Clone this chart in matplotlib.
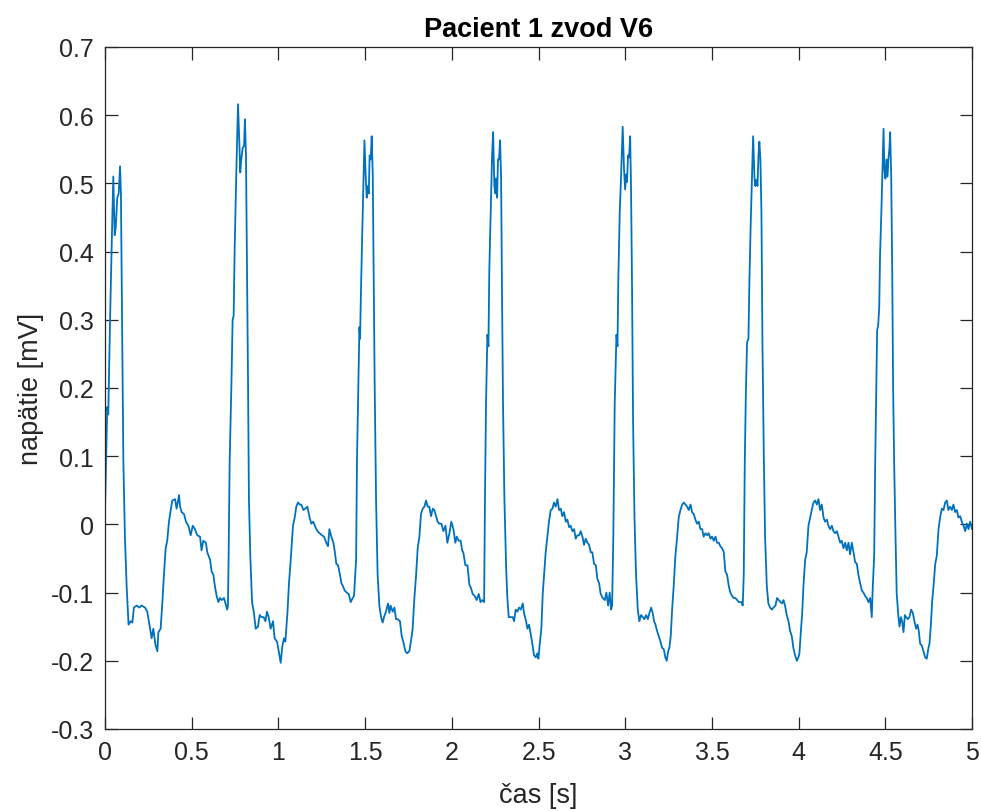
import numpy as np
import matplotlib
matplotlib.use("Agg")
import matplotlib.pyplot as plt
from matplotlib.ticker import FormatStrFormatter

t_beat1 = [0.000, 0.013, 0.019, 0.029, 0.038, 0.048, 0.056, 0.062, 0.071, 0.079,
           0.087, 0.092, 0.098, 0.106, 0.115, 0.125, 0.136, 0.148, 0.158, 0.167,
           0.183, 0.198, 0.211, 0.231, 0.244, 0.260, 0.269, 0.279, 0.290, 0.302,
           0.308, 0.321, 0.331, 0.340, 0.350, 0.359, 0.369, 0.379, 0.388, 0.404,
           0.413, 0.427, 0.433, 0.442, 0.456, 0.467, 0.481, 0.494, 0.506, 0.519,
           0.532, 0.548, 0.557, 0.567, 0.582, 0.590, 0.606, 0.615, 0.625, 0.634,
           0.644, 0.654, 0.663, 0.673, 0.686, 0.698, 0.705]
v_beat1 = [0.018, 0.172, 0.161, 0.295, 0.401, 0.510, 0.424, 0.435, 0.479, 0.485,
           0.525, 0.485, 0.317, 0.093, -0.018, -0.091, -0.147, -0.142, -0.144, -0.122,
           -0.119, -0.122, -0.119, -0.122, -0.128, -0.153, -0.167, -0.153, -0.175, -0.186,
           -0.158, -0.153, -0.114, -0.074, -0.035, -0.024, 0.004, 0.021, 0.035, 0.037,
           0.023, 0.043, 0.026, 0.018, 0.015, 0.004, -0.002, -0.016, -0.002, -0.007,
           -0.016, -0.018, -0.038, -0.024, -0.027, -0.041, -0.052, -0.069, -0.074, -0.091,
           -0.105, -0.114, -0.108, -0.111, -0.108, -0.119, -0.125]

t_beat2 = [0.709, 0.713, 0.719, 0.729, 0.736, 0.742, 0.748, 0.757, 0.767, 0.775,
           0.780, 0.786, 0.794, 0.802, 0.807, 0.813, 0.819, 0.825, 0.830, 0.838,
           0.848, 0.859, 0.869, 0.882, 0.892, 0.902, 0.915, 0.925, 0.934, 0.944,
           0.955, 0.969, 0.978, 0.992, 1.002, 1.013, 1.023, 1.032, 1.040, 1.052,
           1.061, 1.071, 1.084, 1.094, 1.103, 1.113, 1.123, 1.132, 1.144, 1.155,
           1.167, 1.180, 1.190, 1.201, 1.213, 1.225, 1.238, 1.251, 1.263, 1.276,
           1.286, 1.294, 1.305, 1.317, 1.324, 1.334, 1.344, 1.355, 1.363, 1.373,
           1.382, 1.394, 1.405, 1.417, 1.428, 1.436]
v_beat2 = [-0.119, -0.046, 0.093, 0.205, 0.300, 0.306, 0.407, 0.513, 0.616, 0.558,
           0.516, 0.535, 0.552, 0.555, 0.594, 0.541, 0.373, 0.205, 0.037, -0.046,
           -0.114, -0.130, -0.153, -0.150, -0.133, -0.136, -0.136, -0.142, -0.128, -0.136,
           -0.153, -0.142, -0.167, -0.172, -0.186, -0.203, -0.178, -0.167, -0.172, -0.130,
           -0.086, -0.052, -0.002, 0.010, 0.026, 0.032, 0.029, 0.029, 0.021, 0.023,
           0.026, 0.010, 0.001, 0.004, -0.004, -0.010, -0.013, -0.016, -0.018, -0.027,
           -0.032, -0.007, -0.018, -0.027, -0.038, -0.058, -0.060, -0.074, -0.086, -0.091,
           -0.097, -0.100, -0.102, -0.114, -0.108, -0.105]

t_beat3 = [1.448, 1.453, 1.459, 1.467, 1.471, 1.474, 1.482, 1.488, 1.496, 1.503,
           1.509, 1.515, 1.521, 1.526, 1.532, 1.538, 1.544, 1.549, 1.555, 1.563,
           1.572, 1.582, 1.592, 1.601, 1.609, 1.620, 1.632, 1.640, 1.647, 1.659,
           1.669, 1.678, 1.688, 1.701, 1.711, 1.720, 1.732, 1.742, 1.755, 1.765,
           1.774, 1.784, 1.794, 1.803, 1.813, 1.822, 1.832, 1.842, 1.851, 1.861,
           1.870, 1.880, 1.890, 1.899, 1.909, 1.918, 1.928, 1.940, 1.951, 1.963,
           1.974, 1.986, 1.997, 2.009, 2.020, 2.028, 2.040, 2.051, 2.059, 2.066,
           2.078, 2.090, 2.101, 2.111, 2.120, 2.132, 2.143, 2.155, 2.165, 2.174]
v_beat3 = [-0.052, 0.093, 0.177, 0.289, 0.272, 0.317, 0.412, 0.474, 0.563, 0.513,
           0.479, 0.496, 0.485, 0.541, 0.535, 0.569, 0.513, 0.373, 0.205, 0.037,
           -0.074, -0.119, -0.136, -0.144, -0.136, -0.128, -0.116, -0.130, -0.119, -0.128,
           -0.122, -0.139, -0.139, -0.142, -0.164, -0.172, -0.186, -0.189, -0.186, -0.170,
           -0.153, -0.108, -0.074, -0.035, -0.018, 0.015, 0.023, 0.026, 0.035, 0.026,
           0.026, 0.012, 0.023, 0.021, 0.012, 0.004, 0.001, 0.001, -0.010, -0.002,
           -0.027, -0.013, 0.004, -0.007, -0.027, -0.018, -0.024, -0.024, -0.038, -0.041,
           -0.060, -0.060, -0.088, -0.094, -0.102, -0.105, -0.111, -0.102, -0.114, -0.111]

t_beat4 = [2.186, 2.191, 2.197, 2.205, 2.211, 2.216, 2.224, 2.232, 2.238, 2.245,
           2.251, 2.255, 2.261, 2.266, 2.272, 2.278, 2.284, 2.289, 2.295, 2.303,
           2.313, 2.320, 2.328, 2.339, 2.351, 2.359, 2.368, 2.378, 2.387, 2.397,
           2.409, 2.416, 2.428, 2.436, 2.445, 2.455, 2.464, 2.474, 2.484, 2.493,
           2.499, 2.509, 2.516, 2.524, 2.532, 2.541, 2.551, 2.560, 2.570, 2.580,
           2.589, 2.599, 2.609, 2.618, 2.628, 2.637, 2.647, 2.657, 2.666, 2.676,
           2.685, 2.695, 2.705, 2.714, 2.724, 2.734, 2.743, 2.753, 2.762, 2.772,
           2.782, 2.791, 2.801, 2.810, 2.820, 2.830, 2.839, 2.849, 2.858, 2.870,
           2.882, 2.891, 2.901, 2.910, 2.918]
v_beat4 = [-0.114, 0.037, 0.177, 0.278, 0.261, 0.373, 0.457, 0.541, 0.575, 0.496,
           0.485, 0.507, 0.479, 0.535, 0.535, 0.563, 0.507, 0.345, 0.177, 0.037,
           -0.063, -0.108, -0.136, -0.136, -0.136, -0.142, -0.125, -0.128, -0.122, -0.125,
           -0.116, -0.130, -0.142, -0.153, -0.147, -0.161, -0.175, -0.192, -0.195, -0.189,
           -0.197, -0.170, -0.153, -0.102, -0.074, -0.041, -0.018, 0.004, 0.021, 0.023,
           0.032, 0.026, 0.037, 0.021, 0.023, 0.012, 0.018, 0.004, 0.007, -0.004,
           -0.002, -0.010, -0.007, -0.021, -0.016, -0.016, -0.010, -0.018, -0.030, -0.021,
           -0.027, -0.030, -0.041, -0.041, -0.058, -0.060, -0.080, -0.086, -0.102, -0.108,
           -0.111, -0.100, -0.119, -0.100, -0.125]

t_beat5 = [2.924, 2.931, 2.939, 2.949, 2.955, 2.960, 2.968, 2.976, 2.985, 2.993,
           2.999, 3.005, 3.010, 3.016, 3.022, 3.028, 3.033, 3.039, 3.045, 3.053,
           3.062, 3.072, 3.081, 3.091, 3.101, 3.110, 3.120, 3.130, 3.139, 3.149,
           3.158, 3.166, 3.174, 3.183, 3.193, 3.203, 3.212, 3.222, 3.231, 3.239,
           3.247, 3.254, 3.262, 3.270, 3.279, 3.289, 3.299, 3.308, 3.318, 3.328,
           3.337, 3.347, 3.356, 3.366, 3.376, 3.385, 3.395, 3.404, 3.414, 3.424,
           3.433, 3.443, 3.452, 3.462, 3.472, 3.481, 3.491, 3.500, 3.510, 3.520,
           3.529, 3.539, 3.548, 3.558, 3.568, 3.577, 3.587, 3.597, 3.606, 3.616,
           3.625, 3.635, 3.645, 3.654, 3.664]
v_beat5 = [-0.119, -0.018, 0.177, 0.278, 0.261, 0.362, 0.457, 0.513, 0.583, 0.519,
           0.491, 0.513, 0.502, 0.541, 0.538, 0.569, 0.496, 0.345, 0.149, 0.010,
           -0.074, -0.125, -0.142, -0.133, -0.136, -0.139, -0.133, -0.139, -0.130, -0.122,
           -0.130, -0.142, -0.147, -0.156, -0.164, -0.172, -0.181, -0.183, -0.195, -0.200,
           -0.186, -0.181, -0.164, -0.125, -0.091, -0.046, -0.018, 0.010, 0.021, 0.029,
           0.032, 0.029, 0.026, 0.021, 0.029, 0.018, 0.015, 0.007, 0.001, 0.004,
           -0.007, -0.007, -0.018, -0.013, -0.016, -0.013, -0.021, -0.018, -0.024, -0.018,
           -0.027, -0.027, -0.032, -0.035, -0.041, -0.069, -0.074, -0.091, -0.100, -0.105,
           -0.108, -0.108, -0.111, -0.114, -0.114]

t_beat6 = [3.670, 3.677, 3.683, 3.689, 3.695, 3.702, 3.710, 3.716, 3.723, 3.731,
           3.737, 3.745, 3.750, 3.756, 3.762, 3.768, 3.773, 3.779, 3.785, 3.791,
           3.799, 3.806, 3.816, 3.825, 3.835, 3.845, 3.854, 3.866, 3.875, 3.885,
           3.895, 3.904, 3.912, 3.921, 3.931, 3.941, 3.950, 3.960, 3.969, 3.979,
           3.989, 3.998, 4.004, 4.012, 4.020, 4.027, 4.037, 4.046, 4.056, 4.066,
           4.075, 4.085, 4.095, 4.104, 4.114, 4.123, 4.133, 4.143, 4.152, 4.162,
           4.171, 4.181, 4.191, 4.200, 4.210, 4.220, 4.229, 4.239, 4.248, 4.258,
           4.268, 4.277, 4.287, 4.296, 4.306, 4.316, 4.325, 4.335, 4.344, 4.354,
           4.364, 4.373, 4.383, 4.392, 4.402]
v_beat6 = [-0.114, -0.119, -0.074, 0.093, 0.189, 0.267, 0.272, 0.362, 0.440, 0.513,
           0.569, 0.507, 0.496, 0.505, 0.496, 0.541, 0.561, 0.535, 0.457, 0.261,
           0.093, -0.018, -0.091, -0.116, -0.122, -0.125, -0.122, -0.119, -0.108, -0.111,
           -0.114, -0.116, -0.111, -0.119, -0.133, -0.142, -0.156, -0.164, -0.181, -0.192,
           -0.200, -0.195, -0.189, -0.158, -0.130, -0.091, -0.052, -0.041, -0.002, 0.010,
           0.021, 0.032, 0.035, 0.029, 0.037, 0.021, 0.029, 0.010, 0.004, 0.007,
           -0.002, -0.007, -0.002, -0.010, -0.013, -0.010, -0.018, -0.027, -0.024, -0.035,
           -0.027, -0.038, -0.027, -0.044, -0.027, -0.041, -0.055, -0.058, -0.074, -0.086,
           -0.097, -0.100, -0.105, -0.108, -0.114]

t_beat7 = [4.412, 4.421, 4.427, 4.435, 4.441, 4.446, 4.452, 4.458, 4.464, 4.469,
           4.477, 4.485, 4.489, 4.494, 4.500, 4.506, 4.512, 4.517, 4.523, 4.527,
           4.533, 4.539, 4.544, 4.550, 4.558, 4.565, 4.575, 4.581, 4.589, 4.596,
           4.604, 4.612, 4.619, 4.629, 4.638, 4.648, 4.658, 4.667, 4.677, 4.685,
           4.692, 4.700, 4.710, 4.719, 4.729, 4.738, 4.748, 4.754, 4.762, 4.769,
           4.777, 4.787, 4.796, 4.806, 4.815, 4.825, 4.835, 4.844, 4.854, 4.863,
           4.873, 4.883, 4.892, 4.902, 4.911, 4.921, 4.931, 4.940, 4.950, 4.960,
           4.969, 4.979, 4.988, 5.000]
v_beat7 = [-0.108, -0.136, -0.091, -0.046, 0.093, 0.177, 0.284, 0.292, 0.317, 0.396,
           0.463, 0.541, 0.580, 0.519, 0.507, 0.535, 0.510, 0.535, 0.552, 0.575,
           0.513, 0.373, 0.205, 0.093, -0.018, -0.102, -0.136, -0.150, -0.136, -0.142,
           -0.158, -0.133, -0.136, -0.139, -0.136, -0.125, -0.130, -0.142, -0.153, -0.147,
           -0.156, -0.175, -0.178, -0.186, -0.195, -0.197, -0.181, -0.175, -0.147, -0.114,
           -0.091, -0.058, -0.046, -0.007, 0.010, 0.023, 0.021, 0.032, 0.035, 0.021,
           0.026, 0.021, 0.029, 0.018, 0.021, 0.010, 0.012, 0.004, -0.002, -0.010,
           0.001, -0.007, 0.004, -0.007]

t = np.concatenate([t_beat1, t_beat2, t_beat3, t_beat4, t_beat5, t_beat6, t_beat7])
v = np.concatenate([v_beat1, v_beat2, v_beat3, v_beat4, v_beat5, v_beat6, v_beat7])

x_ticks = [0, 0.5, 1, 1.5, 2, 2.5, 3, 3.5, 4, 4.5, 5]
y_ticks = [-0.3, -0.2, -0.1, 0, 0.1, 0.2, 0.3, 0.4, 0.5, 0.6, 0.7]

plt.rcParams['font.family'] = ['Liberation Sans', 'DejaVu Sans']
plt.rcParams['axes.unicode_minus'] = False

fig = plt.figure(figsize=(9.81, 8.12), dpi=100)
ax = fig.add_axes([0.107, 0.101, 0.884, 0.840])

ax.plot(t, v, color='#0072BD', linewidth=1.3)

ax.set_xlim(0, 5)
ax.set_ylim(-0.3, 0.7)
ax.set_xticks(x_ticks)
ax.set_yticks(y_ticks)
ax.xaxis.set_major_formatter(FormatStrFormatter('%g'))
ax.yaxis.set_major_formatter(FormatStrFormatter('%g'))
ax.tick_params(direction='in', length=9, width=0.9, top=True, right=True,
               labelsize=18, colors='#262626', pad=8)
for s in ax.spines.values():
    s.set_color('#262626')
    s.set_linewidth(0.9)

ax.set_xlabel('čas [s]', fontsize=19.5, color='#262626', labelpad=13)
ax.set_ylabel('napätie [mV]', fontsize=19.5, color='#262626', labelpad=5)
ax.set_title('Pacient 1 zvod V6', fontsize=19.5, fontweight='bold', color='black', pad=8)

fig.savefig('out.png', dpi=100)
